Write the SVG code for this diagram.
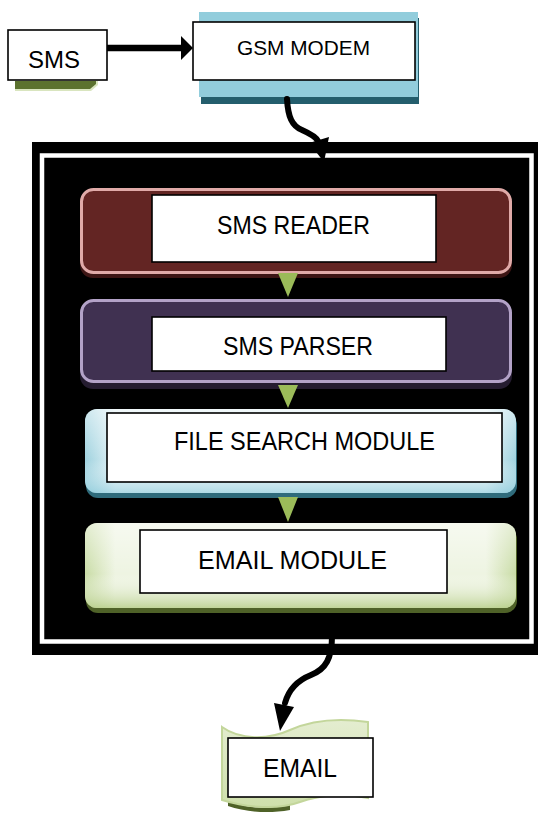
<svg xmlns="http://www.w3.org/2000/svg" width="538" height="815" viewBox="0 0 538 815">
  <defs>
    <linearGradient id="gradSearch" x1="0" y1="0" x2="1" y2="0">
      <stop offset="0" stop-color="#9fd2df"/>
      <stop offset="0.07" stop-color="#e3f2f6"/>
      <stop offset="0.93" stop-color="#e3f2f6"/>
      <stop offset="1" stop-color="#9fd2df"/>
    </linearGradient>
    <linearGradient id="gradSearchV" x1="0" y1="0" x2="0" y2="1">
      <stop offset="0" stop-color="#ffffff" stop-opacity="0.5"/>
      <stop offset="0.6" stop-color="#ffffff" stop-opacity="0"/>
      <stop offset="1" stop-color="#8ccbdb" stop-opacity="0.6"/>
    </linearGradient>
    <linearGradient id="gradMail" x1="0" y1="0" x2="1" y2="0">
      <stop offset="0" stop-color="#c9dca6"/>
      <stop offset="0.07" stop-color="#eef4e2"/>
      <stop offset="0.93" stop-color="#eef4e2"/>
      <stop offset="1" stop-color="#c9dca6"/>
    </linearGradient>
    <linearGradient id="gradMailV" x1="0" y1="0" x2="0" y2="1">
      <stop offset="0" stop-color="#ffffff" stop-opacity="0.5"/>
      <stop offset="0.6" stop-color="#ffffff" stop-opacity="0"/>
      <stop offset="1" stop-color="#b5cd86" stop-opacity="0.8"/>
    </linearGradient>
    <linearGradient id="gradDoc" x1="0" y1="0" x2="0" y2="1">
      <stop offset="0" stop-color="#e4edd0"/>
      <stop offset="1" stop-color="#cfe0ac"/>
    </linearGradient>
  </defs>
  <style>
    .label { font-family: "Liberation Sans", Arial, sans-serif; fill: #000; text-anchor: middle; }
    .box { fill: #fff; stroke: #000; stroke-width: 1.6; }
    .flow { fill: #9bbb59; }
    .curve { fill: none; stroke: #000; stroke-width: 6; stroke-linecap: round; }
  </style>

  <rect width="538" height="815" fill="#fff"/>

  <!-- SMS input -->
  <g id="node-sms">
    <polygon points="15,81 98,81 98,85 91,91 15,91" fill="#d9e5bf"/>
    <polygon points="15,81 96,81 96,84 90,89 15,89" fill="#5c722f"/>
    <rect class="box" x="8" y="30" width="99" height="50" stroke-width="2"/>
    <text class="label" x="54" y="68" font-size="23" textLength="52" lengthAdjust="spacingAndGlyphs">SMS</text>
  </g>

  <!-- GSM modem -->
  <g id="node-gsm">
    <rect x="201" y="18" width="218" height="86" fill="#245e6d"/>
    <rect x="199" y="12" width="219" height="85" fill="#92cddc"/>
    <rect class="box" x="193" y="22" width="222" height="58" stroke-width="2"/>
    <text class="label" x="303.5" y="55" font-size="19.5" textLength="133" lengthAdjust="spacingAndGlyphs">GSM MODEM</text>
  </g>

  <!-- processing unit frame -->
  <g id="node-processor">
    <rect x="32" y="142" width="506" height="513" fill="#000"/>
    <rect x="42" y="155.5" width="489.5" height="486" fill="none" stroke="#fff" stroke-width="4.5"/>
  </g>

  <!-- SMS reader -->
  <g id="node-reader">
    <rect x="80" y="192" width="432" height="86" rx="13" fill="#3d1514"/>
    <rect x="81.5" y="189.5" width="429" height="83" rx="12" fill="#632523" stroke="#e0aaa8" stroke-width="3"/>
    <rect class="box" x="152" y="195" width="284" height="67"/>
    <text class="label" x="293.5" y="234" font-size="26.5" textLength="153" lengthAdjust="spacingAndGlyphs">SMS READER</text>
  </g>

  <!-- SMS parser -->
  <g id="node-parser">
    <rect x="80" y="303" width="432" height="86" rx="13" fill="#251c30"/>
    <rect x="81.5" y="300.5" width="429" height="81" rx="12" fill="#403151" stroke="#b3a2c7" stroke-width="3"/>
    <rect class="box" x="152" y="317" width="294" height="54"/>
    <text class="label" x="298" y="355" font-size="26" textLength="150" lengthAdjust="spacingAndGlyphs">SMS PARSER</text>
  </g>

  <!-- file search module -->
  <g id="node-search">
    <rect x="86" y="413" width="431" height="85" rx="12" fill="#2f6b7b"/>
    <rect x="85" y="409" width="431" height="84" rx="12" fill="url(#gradSearch)"/>
    <rect x="85" y="409" width="431" height="84" rx="12" fill="url(#gradSearchV)"/>
    <rect class="box" x="107" y="413" width="395" height="69"/>
    <text class="label" x="304.5" y="450" font-size="26" textLength="261" lengthAdjust="spacingAndGlyphs">FILE SEARCH MODULE</text>
  </g>

  <!-- email module -->
  <g id="node-email-module">
    <rect x="86" y="527" width="431" height="86" rx="12" fill="#4f6228"/>
    <rect x="85" y="523" width="431" height="85" rx="12" fill="url(#gradMail)"/>
    <rect x="85" y="523" width="431" height="85" rx="12" fill="url(#gradMailV)"/>
    <rect class="box" x="140" y="530" width="307" height="63"/>
    <text class="label" x="292.5" y="569" font-size="26" textLength="189" lengthAdjust="spacingAndGlyphs">EMAIL MODULE</text>
  </g>

  <!-- email output document -->
  <g id="node-email">
    <path d="M228,800 C245,809 270,810 290,804 L290,810 C268,814 245,812 228,806 Z" fill="#4f6228"/>
    <path d="M222,727 C240,740 268,740 290,730 C312,720 340,718 368,722 L368,798 C345,793 320,795 300,802 C278,810 248,808 222,800 Z" fill="url(#gradDoc)" stroke="#c3d69b" stroke-width="2"/>
    <rect class="box" x="228" y="738" width="145" height="59"/>
    <text class="label" x="300" y="777" font-size="25.5" textLength="74" lengthAdjust="spacingAndGlyphs">EMAIL</text>
  </g>

  <!-- connectors -->
  <g id="connectors">
    <line x1="107" y1="48" x2="184" y2="48" stroke="#000" stroke-width="6.5"/>
    <polygon points="181,36 193,48 181,60" fill="#000"/>

    <path class="curve" d="M287,99 C288,117 292,126 302,130 C311,134 316,137 318,141"/>
    <polygon points="309,143 329,137 324,162" fill="#000"/>

    <polygon class="flow" points="278,273 298,273 288,297"/>
    <polygon class="flow" points="278,385 298,385 288,408"/>
    <polygon class="flow" points="278,497 298,497 288,522"/>

    <path class="curve" d="M332,636 C332,658 326,669 311,675 C296,681 288,692 285,703"/>
    <polygon points="274,703 294,707 280,731" fill="#000"/>
  </g>
</svg>
